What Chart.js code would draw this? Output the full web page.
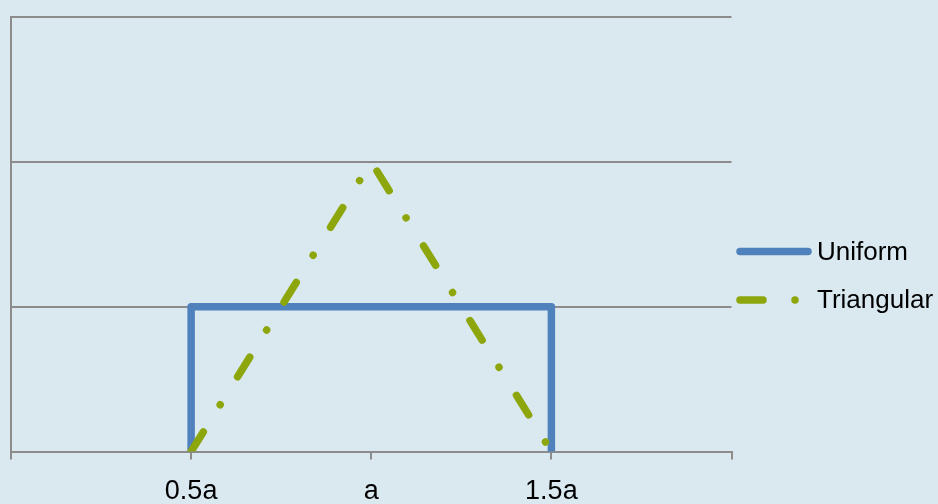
<!DOCTYPE html>
<html>
<head>
<meta charset="utf-8">
<script src="https://cdn.jsdelivr.net/npm/chart.js@4/dist/chart.umd.min.js"></script>
<style>
  html, body { margin: 0; padding: 0; background: #dae9f0; }
  #wrap { width: 938px; height: 504px; }
</style>
</head>
<body>
<div id="wrap"><canvas id="c" width="938" height="504"></canvas></div>
<script>
// Probability density over the interval 0.5a .. 1.5a
const seriesNames = ['Uniform', 'Triangular'];

const uniformX = [0.5, 0.5, 1.5, 1.5];
const uniformY = [0, 1, 1, 0];

const triangularX = [0.5, 1, 1.5];
const triangularY = [0, 2, 0];

const xTickValues = [0, 0.5, 1, 1.5, 2];
const xTickLabels = ['', '0.5a', 'a', '1.5a', ''];

const yMin = 0, yMax = 3, yStep = 1;

const BLUE = '#4f81bd';
const GREEN = '#8ca60b';
const GRID = '#8c8c8c';
const FONT = '"Liberation Sans", Arial, sans-serif';

const toPoints = (xs, ys) => xs.map((x, i) => ({ x: x, y: ys[i] }));

// Legend drawn to the right of the plot, each entry using its dataset's own stroke style
const sideLegend = {
  id: 'sideLegend',
  afterDraw(chart) {
    const ctx = chart.ctx;
    const x0 = 740, x1 = 808, textX = 817;
    const rows = [251.5, 300];
    chart.data.datasets.forEach((ds, i) => {
      const y = rows[i];
      ctx.save();
      ctx.strokeStyle = ds.borderColor;
      ctx.lineWidth = ds.borderWidth;
      ctx.lineCap = 'round';
      ctx.setLineDash(ds.borderDash || []);
      ctx.beginPath();
      ctx.moveTo(x0, y);
      ctx.lineTo(x1, y);
      ctx.stroke();
      ctx.restore();
      ctx.save();
      ctx.fillStyle = '#000';
      ctx.font = '26px ' + FONT;
      ctx.textBaseline = 'middle';
      ctx.textAlign = 'left';
      ctx.fillText(ds.label, textX, y + 1);
      ctx.restore();
    });
  }
};

new Chart(document.getElementById('c'), {
  type: 'line',
  data: {
    datasets: [
      {
        label: seriesNames[0],
        data: toPoints(uniformX, uniformY),
        borderColor: BLUE,
        borderWidth: 7.5,
        borderJoinStyle: 'round',
        borderCapStyle: 'butt',
        pointRadius: 0,
        fill: false,
        tension: 0,
        order: 1
      },
      {
        label: seriesNames[1],
        data: toPoints(triangularX, triangularY),
        borderColor: GREEN,
        borderWidth: 7.5,
        borderDash: [23, 32, 0.01, 33],
        borderCapStyle: 'round',
        borderJoinStyle: 'round',
        pointRadius: 0,
        fill: false,
        tension: 0,
        order: 0
      }
    ]
  },
  options: {
    responsive: false,
    devicePixelRatio: 1,
    animation: false,
    events: [],
    layout: { autoPadding: false, padding: { left: 11, right: 206.5, top: 17, bottom: 0 } },
    plugins: {
      legend: { display: false },
      tooltip: { enabled: false },
      title: { display: false }
    },
    scales: {
      x: {
        type: 'linear',
        min: xTickValues[0],
        max: xTickValues[xTickValues.length - 1],
        afterBuildTicks: (scale) => {
          scale.ticks = xTickValues.map(v => ({ value: v }));
        },
        afterFit: (scale) => {
          scale.height = 52.5;
          scale.paddingLeft = 0;
          scale.paddingRight = 0;
        },
        ticks: {
          autoSkip: false,
          maxRotation: 0,
          minRotation: 0,
          padding: 19,
          color: '#000',
          font: { family: FONT, size: 27, lineHeight: 1 },
          callback: (v) => {
            const i = xTickValues.indexOf(v);
            return i >= 0 ? xTickLabels[i] : '';
          }
        },
        grid: {
          drawOnChartArea: false,
          drawTicks: true,
          tickLength: 8,
          color: GRID,
          lineWidth: 2
        },
        border: { display: true, color: GRID, width: 2 }
      },
      y: {
        min: yMin,
        max: yMax,
        afterFit: (scale) => { scale.width = 0; },
        ticks: { display: false, stepSize: yStep },
        grid: { color: GRID, lineWidth: 2, drawTicks: false },
        border: { display: true, color: GRID, width: 2 }
      }
    }
  },
  plugins: [sideLegend]
});
</script>
</body>
</html>
